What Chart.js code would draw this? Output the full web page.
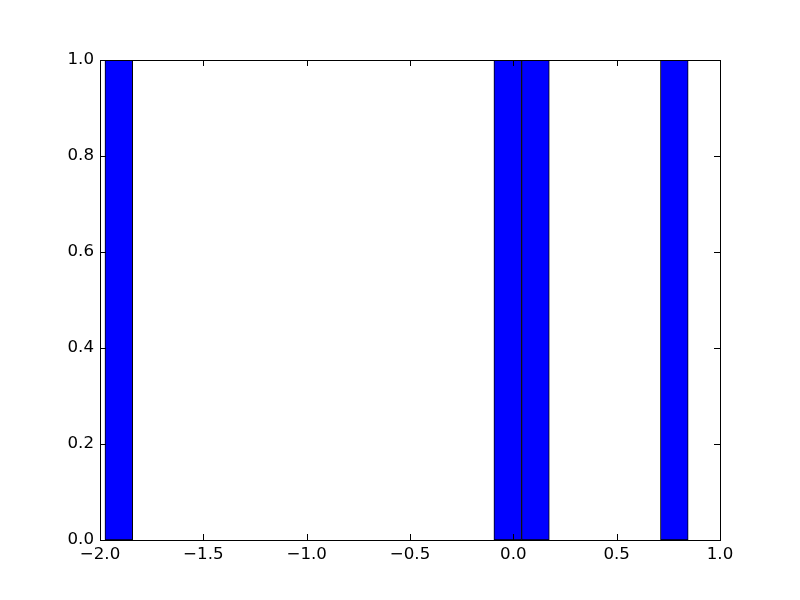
<!DOCTYPE html>
<html>
<head>
<meta charset="utf-8">
<script src="https://cdn.jsdelivr.net/npm/chart.js@4.4.1/dist/chart.umd.min.js"></script>
<style>
  html, body { margin: 0; padding: 0; background: #fff; }
  #wrap { width: 800px; height: 600px; }
</style>
</head>
<body>
<div id="wrap"><canvas id="chart" width="800" height="600"></canvas></div>
<script>
// histogram bins that hold a value (bin centres) and their counts
var binCenters = [-1.909, -0.027, 0.107, 0.779];
var counts = [1, 1, 1, 1];
var xTicks = [-2.0, -1.5, -1.0, -0.5, 0.0, 0.5, 1.0];
var yTicks = [0.0, 0.2, 0.4, 0.6, 0.8, 1.0];

function fmt(v) {
    return v.toFixed(1).replace('-', '\u2212');
}

// matplotlib-classic frame with inward ticks on all four sides
var framePlugin = {
    id: 'frame',
    afterDatasetsDraw: function (chart) {
        var ctx = chart.ctx;
        var a = chart.chartArea;
        var xs = chart.scales.x, ys = chart.scales.y;
        var tl = 6;
        ctx.save();
        ctx.strokeStyle = '#000';
        ctx.lineWidth = 1;
        ctx.beginPath();
        xTicks.forEach(function (v) {
            var px = Math.round(xs.getPixelForValue(v)) + 0.5;
            ctx.moveTo(px, a.bottom); ctx.lineTo(px, a.bottom - tl);
            ctx.moveTo(px, a.top); ctx.lineTo(px, a.top + tl);
        });
        yTicks.forEach(function (v) {
            var py = Math.round(ys.getPixelForValue(v)) + 0.5;
            ctx.moveTo(a.left, py); ctx.lineTo(a.left + tl, py);
            ctx.moveTo(a.right, py); ctx.lineTo(a.right - tl, py);
        });
        ctx.stroke();
        ctx.strokeRect(Math.round(a.left) + 0.5, Math.round(a.top) + 0.5,
            Math.round(a.right - a.left), Math.round(a.bottom - a.top));
        ctx.restore();
    }
};

var data = binCenters.map(function (x, i) { return { x: x, y: counts[i] }; });

new Chart(document.getElementById('chart').getContext('2d'), {
    type: 'bar',
    data: {
        datasets: [{
            data: data,
            backgroundColor: '#0000ff',
            borderColor: '#000000',
            borderWidth: 1,
            borderSkipped: false,
            barPercentage: 1.0,
            categoryPercentage: 1.0
        }]
    },
    options: {
        responsive: false,
        animation: false,
        devicePixelRatio: 1,
        layout: { padding: { top: 60, right: 80, left: 0, bottom: 0 } },
        plugins: {
            legend: { display: false },
            title: { display: false },
            tooltip: { enabled: false }
        },
        scales: {
            x: {
                type: 'linear',
                offset: false,
                min: -2,
                max: 1,
                grid: { display: false, drawTicks: false },
                border: { display: false },
                afterFit: function (s) { s.height = 60; },
                afterBuildTicks: function (s) {
                    s.ticks = xTicks.map(function (v) { return { value: v }; });
                },
                ticks: {
                    padding: 5,
                    color: '#000',
                    maxRotation: 0,
                    autoSkip: false,
                    font: { family: 'DejaVu Sans', size: 16.67 },
                    callback: function (v) { return fmt(v); }
                }
            },
            y: {
                min: 0,
                max: 1,
                grid: { display: false, drawTicks: false },
                border: { display: false },
                afterFit: function (s) { s.width = 100; },
                afterBuildTicks: function (s) {
                    s.ticks = yTicks.map(function (v) { return { value: v }; });
                },
                ticks: {
                    padding: 6,
                    color: '#000',
                    autoSkip: false,
                    font: { family: 'DejaVu Sans', size: 16.67 },
                    callback: function (v) { return fmt(v); }
                }
            }
        }
    },
    plugins: [framePlugin]
});
</script>
</body>
</html>
